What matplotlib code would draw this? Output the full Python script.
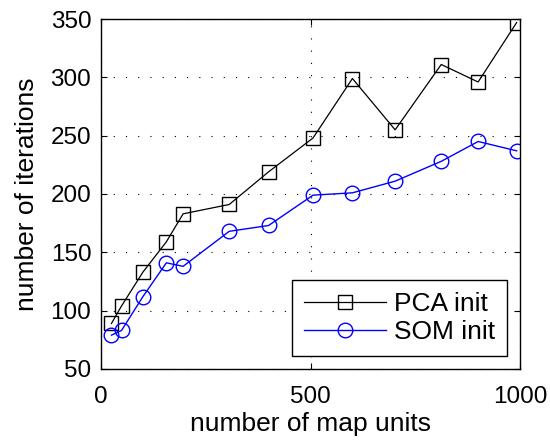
import matplotlib
matplotlib.use("Agg")
import matplotlib.pyplot as plt

plt.rcParams['font.family'] = ['Liberation Sans', 'DejaVu Sans']

map_units = [25, 49, 100, 156, 196, 306, 400, 506, 600, 702, 812, 900, 992]
pca_iters = [89, 104, 133, 159, 183, 191, 219, 248, 299, 255, 311, 296, 347]
som_iters = [79, 83, 112, 141, 138, 168, 173, 199, 201, 211, 228, 245, 237]

x_ticks = [0, 500, 1000]
y_ticks = [50, 100, 150, 200, 250, 300, 350]

fig = plt.figure(figsize=(5.5, 4.42), dpi=100)
ax = fig.add_axes([0.1836, 0.1652, 0.7619, 0.7918])

ax.plot(map_units, pca_iters, color='black', lw=0.9, marker='s', ms=9.5,
        mfc='none', mec='black', mew=1.0, label='PCA init')
ax.plot(map_units, som_iters, color='blue', lw=1.0, marker='o', ms=10.5,
        mfc='none', mec='blue', mew=1.0, label='SOM init')

ax.set_xlim(0, 1000)
ax.set_ylim(50, 350)
ax.set_xticks(x_ticks)
ax.set_yticks(y_ticks)
ax.grid(True, color='black', linestyle=(0, (1, 10)), linewidth=0.8)
ax.tick_params(direction='in', top=True, right=True, length=4, width=0.8,
               labelsize=17.5)
ax.tick_params(axis='y', pad=7)
ax.tick_params(axis='x', pad=12)
for s in ax.spines.values():
    s.set_linewidth(1.0)

ax.set_xlabel('number of map units', fontsize=19, labelpad=3)
ax.set_ylabel('number of iterations', fontsize=19, labelpad=8)

leg = ax.legend(loc='lower right', fontsize=19, handlelength=3.1,
                fancybox=False, framealpha=1, edgecolor='black',
                borderaxespad=0.5, labelspacing=0.15, handletextpad=0.3,
                borderpad=0.45)
leg.get_frame().set_linewidth(1.0)

fig.savefig('out.png', dpi=100)
